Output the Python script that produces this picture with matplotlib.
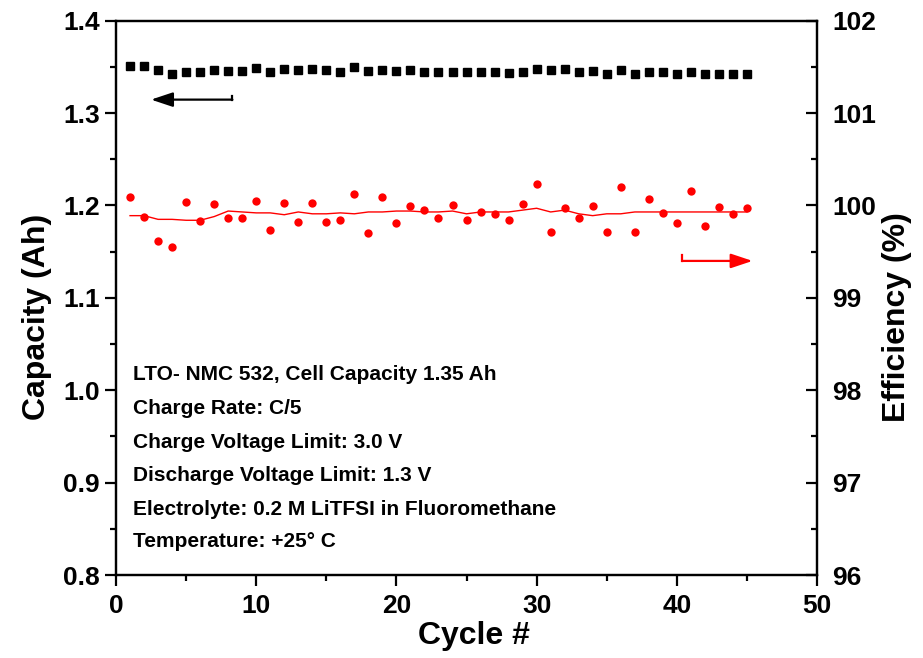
import matplotlib
matplotlib.use('Agg')
import matplotlib.pyplot as plt
from matplotlib.ticker import MultipleLocator

plt.rcParams['font.family'] = ['Liberation Sans', 'DejaVu Sans']
plt.rcParams['font.weight'] = 'bold'

cycles = list(range(1, 46))

capacity = [1.351, 1.351, 1.347, 1.342, 1.345, 1.345, 1.347, 1.346, 1.346, 1.349,
            1.345, 1.348, 1.347, 1.348, 1.347, 1.345, 1.350, 1.346, 1.347, 1.346,
            1.347, 1.345, 1.345, 1.344, 1.344, 1.345, 1.345, 1.343, 1.344, 1.348,
            1.347, 1.348, 1.345, 1.346, 1.342, 1.347, 1.342, 1.344, 1.344, 1.342,
            1.345, 1.342, 1.342, 1.342, 1.342]

efficiency = [100.09, 99.88, 99.62, 99.55, 100.04, 99.83, 100.02, 99.87, 99.87, 100.05,
              99.73, 100.03, 99.82, 100.03, 99.82, 99.84, 100.12, 99.70, 100.09, 99.81,
              99.99, 99.95, 99.87, 100.01, 99.84, 99.93, 99.91, 99.84, 100.02, 100.23,
              99.71, 99.97, 99.87, 99.99, 99.71, 100.20, 99.71, 100.07, 99.92, 99.81,
              100.16, 99.78, 99.98, 99.91, 99.97]

eff_trend = [99.89, 99.89, 99.85, 99.85, 99.84, 99.84, 99.88, 99.94, 99.93, 99.92,
             99.92, 99.90, 99.93, 99.91, 99.91, 99.92, 99.91, 99.93, 99.93, 99.94,
             99.94, 99.93, 99.93, 99.94, 99.91, 99.93, 99.93, 99.93, 99.95, 99.97,
             99.93, 99.95, 99.91, 99.89, 99.91, 99.91, 99.93, 99.93, 99.93, 99.93,
             99.93, 99.93, 99.93, 99.93, 99.93]

notes = ['LTO- NMC 532, Cell Capacity 1.35 Ah',
         'Charge Rate: C/5',
         'Charge Voltage Limit: 3.0 V',
         'Discharge Voltage Limit: 1.3 V',
         'Electrolyte: 0.2 M LiTFSI in Fluoromethane',
         'Temperature: +25\u00b0 C']

fig = plt.figure(figsize=(9.23, 6.58), dpi=100)
ax = fig.add_axes([0.1257, 0.1261, 0.7595, 0.8424])
ax2 = ax.twinx()

ax.plot(cycles, capacity, 's', color='black', markersize=6, zorder=3)
ax2.plot(cycles, efficiency, 'o', color='#ff0000', markersize=6, markeredgewidth=0)
ax2.plot(cycles, eff_trend, '-', color='#ff0000', linewidth=1)

ax.set_xlim(0, 50)
ax.set_ylim(0.8, 1.4)
ax2.set_ylim(96, 102)

ax.xaxis.set_major_locator(MultipleLocator(10))
ax.xaxis.set_minor_locator(MultipleLocator(5))
ax.yaxis.set_major_locator(MultipleLocator(0.1))
ax.yaxis.set_minor_locator(MultipleLocator(0.05))
ax2.yaxis.set_major_locator(MultipleLocator(1))
ax2.yaxis.set_minor_locator(MultipleLocator(0.5))
ax.yaxis.set_major_formatter(matplotlib.ticker.FormatStrFormatter('%.1f'))

for a in (ax, ax2):
    for s in a.spines.values():
        s.set_linewidth(1.6)
ax.tick_params(which='major', direction='out', length=8, width=1.6, labelsize=19, top=False)
ax.tick_params(axis='x', which='major', pad=6)
ax.tick_params(which='minor', direction='out', length=4, width=1.6, top=False)
ax2.tick_params(which='major', direction='in', length=8, width=1.6, labelsize=19, pad=11)
ax2.tick_params(which='minor', direction='in', length=4, width=1.6)

ax.set_xlabel('Cycle #', fontsize=23, fontweight='bold')
ax.set_ylabel('Capacity (Ah)', fontsize=23, fontweight='bold')
ax2.set_ylabel('Efficiency (%)', fontsize=23, fontweight='bold')
ax.yaxis.set_label_coords(-0.091, 0.466)
ax2.yaxis.set_label_coords(1.092, 0.466)
ax.xaxis.set_label_coords(0.51, -0.083)

# direction arrows
ax.annotate('', xy=(2.5, 1.3146), xytext=(8.3, 1.3146),
            arrowprops=dict(arrowstyle='-|>,head_length=0.6,head_width=0.2', color='black', lw=1.6,
                            mutation_scale=22, shrinkA=0, shrinkB=0))
ax.plot([8.3, 8.3], [1.3146, 1.318], color='black', lw=1.6)
ax2.annotate('', xy=(45.4, 99.40), xytext=(40.4, 99.40),
             arrowprops=dict(arrowstyle='-|>,head_length=0.6,head_width=0.2', color='#ff0000', lw=1.6,
                             mutation_scale=22, shrinkA=0, shrinkB=0))
ax2.plot([40.4, 40.4], [99.40, 99.46], color='#ff0000', lw=1.6)

note_y = [1.0166, 0.9798, 0.943, 0.9075, 0.8707, 0.836]
for txt, yy in zip(notes, note_y):
    ax.text(1.2, yy, txt, fontsize=15, fontweight='bold', va='center', ha='left')

fig.savefig('out.png', dpi=100)
